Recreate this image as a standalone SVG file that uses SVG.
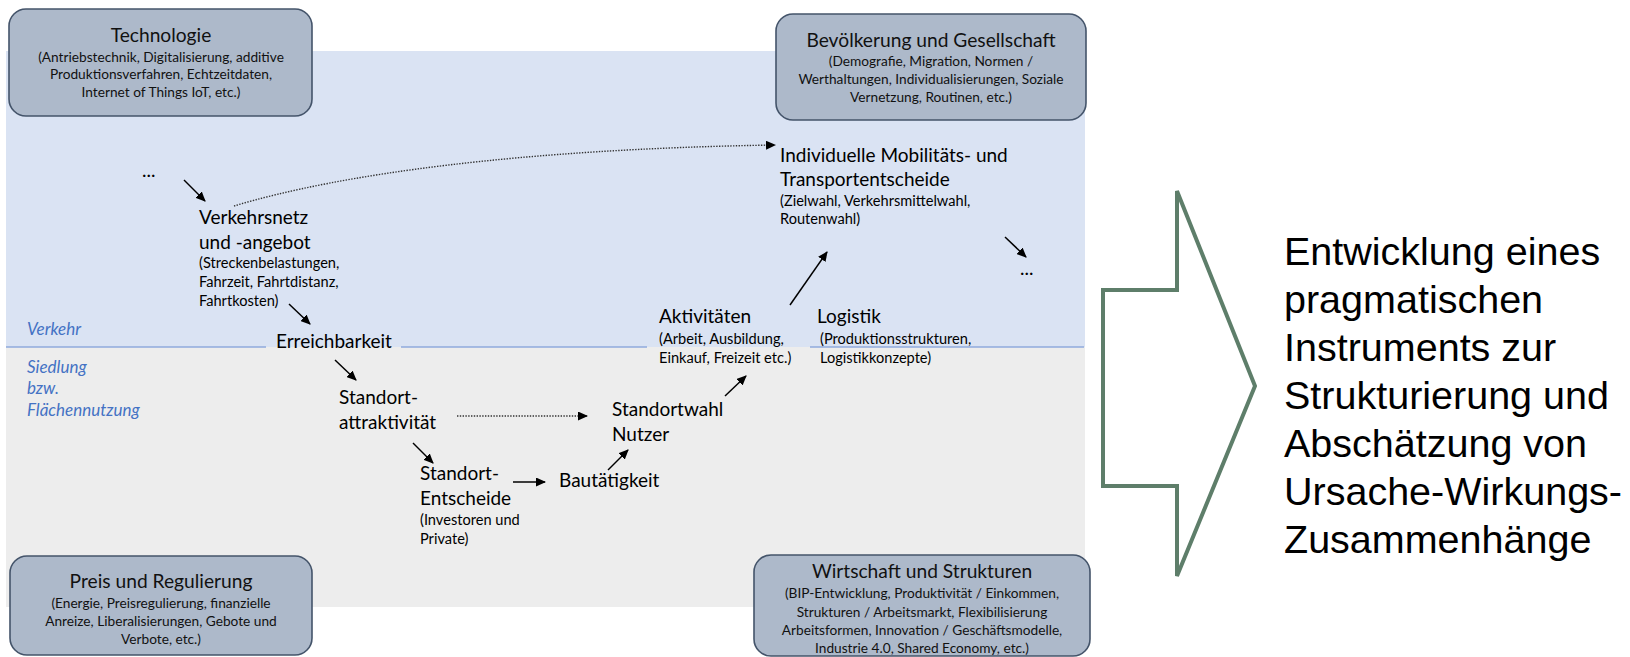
<svg xmlns="http://www.w3.org/2000/svg" width="1630" height="657" viewBox="0 0 1630 657">
<defs>
<style>
.box{fill:#ADB9CA;stroke:#44546A;stroke-width:1.6}
.bt{font-family:Lato,"Open Sans",sans-serif;font-size:19.2px;fill:#111;text-anchor:middle}
.bs{font-family:Lato,"Open Sans",sans-serif;font-size:13.7px;fill:#111;text-anchor:middle}
.m{font-family:Lato,"Open Sans",sans-serif;font-size:19px;fill:#000}
.s{font-family:Lato,"Open Sans",sans-serif;font-size:14.6px;fill:#000}
.it{font-family:Lato,"Open Sans",sans-serif;font-size:17px;font-style:italic;fill:#4472C4}
.big{font-family:"Liberation Sans",Arial,sans-serif;font-size:39.5px;fill:#000}
.a{stroke:#000;stroke-width:1.5;fill:none;marker-end:url(#ah)}
.d{stroke:#333;stroke-width:1.4;fill:none;stroke-dasharray:1.4 1.4;marker-end:url(#ah)}
.sep{stroke:#8FAADC;stroke-width:1.4}
</style>
<marker id="ah" markerUnits="userSpaceOnUse" markerWidth="10" markerHeight="9" refX="9" refY="4.5" orient="auto">
<path d="M0,0 L10,4.5 L0,9 z" fill="#000"/>
</marker>
</defs>
<rect x="0" y="0" width="1630" height="657" fill="#FFFFFF"/>
<g id="background">
<rect x="6" y="51" width="1079" height="296" fill="#DAE3F3"/>
<rect x="6" y="347" width="1079" height="260" fill="#EDEDED"/>
<line class="sep" x1="6" y1="347" x2="266" y2="347"/>
<line class="sep" x1="401" y1="347" x2="647" y2="347"/>
<line class="sep" x1="810" y1="347" x2="1084" y2="347"/>
<text class="it" x="27" y="335">Verkehr</text>
<text class="it" x="27" y="373">Siedlung</text>
<text class="it" x="27" y="394">bzw.</text>
<text class="it" x="27" y="416">Flächennutzung</text>
</g>
<g id="technologie">
<rect class="box" x="9" y="9" width="303" height="107" rx="17"/>
<text class="bt" x="161" y="42">Technologie</text>
<text class="bs" x="161" y="62">(Antriebstechnik, Digitalisierung, additive</text>
<text class="bs" x="161" y="79">Produktionsverfahren, Echtzeitdaten,</text>
<text class="bs" x="161" y="97">Internet of Things IoT, etc.)</text>
</g>
<g id="bevoelkerung">
<rect class="box" x="776" y="14" width="310" height="106" rx="17"/>
<text class="bt" x="931" y="47">Bevölkerung und Gesellschaft</text>
<text class="bs" x="931" y="66">(Demografie, Migration, Normen /</text>
<text class="bs" x="931" y="84">Werthaltungen, Individualisierungen, Soziale</text>
<text class="bs" x="931" y="102">Vernetzung, Routinen, etc.)</text>
</g>
<g id="preis">
<rect class="box" x="10" y="556" width="302" height="99" rx="17"/>
<text class="bt" x="161" y="588">Preis und Regulierung</text>
<text class="bs" x="161" y="608">(Energie, Preisregulierung, finanzielle</text>
<text class="bs" x="161" y="626">Anreize, Liberalisierungen, Gebote und</text>
<text class="bs" x="161" y="644">Verbote, etc.)</text>
</g>
<g id="wirtschaft">
<rect class="box" x="754" y="555" width="336" height="101" rx="17"/>
<text class="bt" x="922" y="578">Wirtschaft und Strukturen</text>
<text class="bs" x="922" y="598">(BIP-Entwicklung, Produktivität / Einkommen,</text>
<text class="bs" x="922" y="617">Strukturen / Arbeitsmarkt, Flexibilisierung</text>
<text class="bs" x="922" y="635">Arbeitsformen, Innovation / Geschäftsmodelle,</text>
<text class="bs" x="922" y="653">Industrie 4.0, Shared Economy, etc.)</text>
</g>
<g id="dots-start"><text class="m" x="142" y="177">...</text></g>
<g id="verkehrsnetz">
<text class="m" x="199" y="224">Verkehrsnetz</text>
<text class="m" x="199" y="249">und -angebot</text>
<text class="s" x="199" y="268">(Streckenbelastungen,</text>
<text class="s" x="199" y="287">Fahrzeit, Fahrtdistanz,</text>
<text class="s" x="199" y="306">Fahrtkosten)</text>
</g>
<g id="erreichbarkeit"><text class="m" x="276" y="348">Erreichbarkeit</text></g>
<g id="standortattraktivitaet">
<text class="m" x="339" y="404">Standort-</text>
<text class="m" x="339" y="429">attraktivität</text>
</g>
<g id="standortentscheide">
<text class="m" x="420" y="480">Standort-</text>
<text class="m" x="420" y="505">Entscheide</text>
<text class="s" x="420" y="525">(Investoren und</text>
<text class="s" x="420" y="544">Private)</text>
</g>
<g id="bautaetigkeit"><text class="m" x="559" y="487">Bautätigkeit</text></g>
<g id="standortwahl">
<text class="m" x="612" y="416">Standortwahl</text>
<text class="m" x="612" y="441">Nutzer</text>
</g>
<g id="aktivitaeten">
<text class="m" x="659" y="323">Aktivitäten</text>
<text class="s" x="659" y="344">(Arbeit, Ausbildung,</text>
<text class="s" x="659" y="363">Einkauf, Freizeit etc.)</text>
</g>
<g id="logistik">
<text class="m" x="817" y="323">Logistik</text>
<text class="s" x="820" y="344">(Produktionsstrukturen,</text>
<text class="s" x="820" y="363">Logistikkonzepte)</text>
</g>
<g id="individuelle">
<text class="m" x="780" y="162">Individuelle Mobilitäts- und</text>
<text class="m" x="780" y="186">Transportentscheide</text>
<text class="s" x="780" y="206">(Zielwahl, Verkehrsmittelwahl,</text>
<text class="s" x="780" y="224">Routenwahl)</text>
</g>
<g id="dots-end"><text class="m" x="1020" y="275">...</text></g>
<g id="connectors">
<line class="a" x1="184" y1="180" x2="205" y2="201"/>
<path class="d" d="M234,206 C340,174 520,149 775,145"/>
<line class="a" x1="289" y1="304" x2="310" y2="324"/>
<line class="a" x1="335" y1="360" x2="356" y2="380"/>
<line class="d" x1="457" y1="416" x2="587" y2="416"/>
<line class="a" x1="413" y1="443" x2="433" y2="463"/>
<line class="a" x1="513" y1="482" x2="545" y2="482"/>
<line class="a" x1="608" y1="470" x2="628" y2="450"/>
<line class="a" x1="725" y1="396" x2="746" y2="376"/>
<line class="a" x1="790" y1="305" x2="827" y2="252"/>
<line class="a" x1="1005" y1="237" x2="1026" y2="257"/>
</g>
<g id="big-arrow">
<polygon points="1103,290 1177,290 1177,191 1255,386 1177,576 1177,486 1103,486" fill="#FFFFFF" stroke="#5E7E6A" stroke-width="4"/>
</g>
<g id="conclusion">
<text class="big" x="1284" y="265">Entwicklung eines</text>
<text class="big" x="1284" y="313">pragmatischen</text>
<text class="big" x="1284" y="361">Instruments zur</text>
<text class="big" x="1284" y="409">Strukturierung und</text>
<text class="big" x="1284" y="457">Abschätzung von</text>
<text class="big" x="1284" y="505">Ursache-Wirkungs-</text>
<text class="big" x="1284" y="553">Zusammenhänge</text>
</g>
</svg>
